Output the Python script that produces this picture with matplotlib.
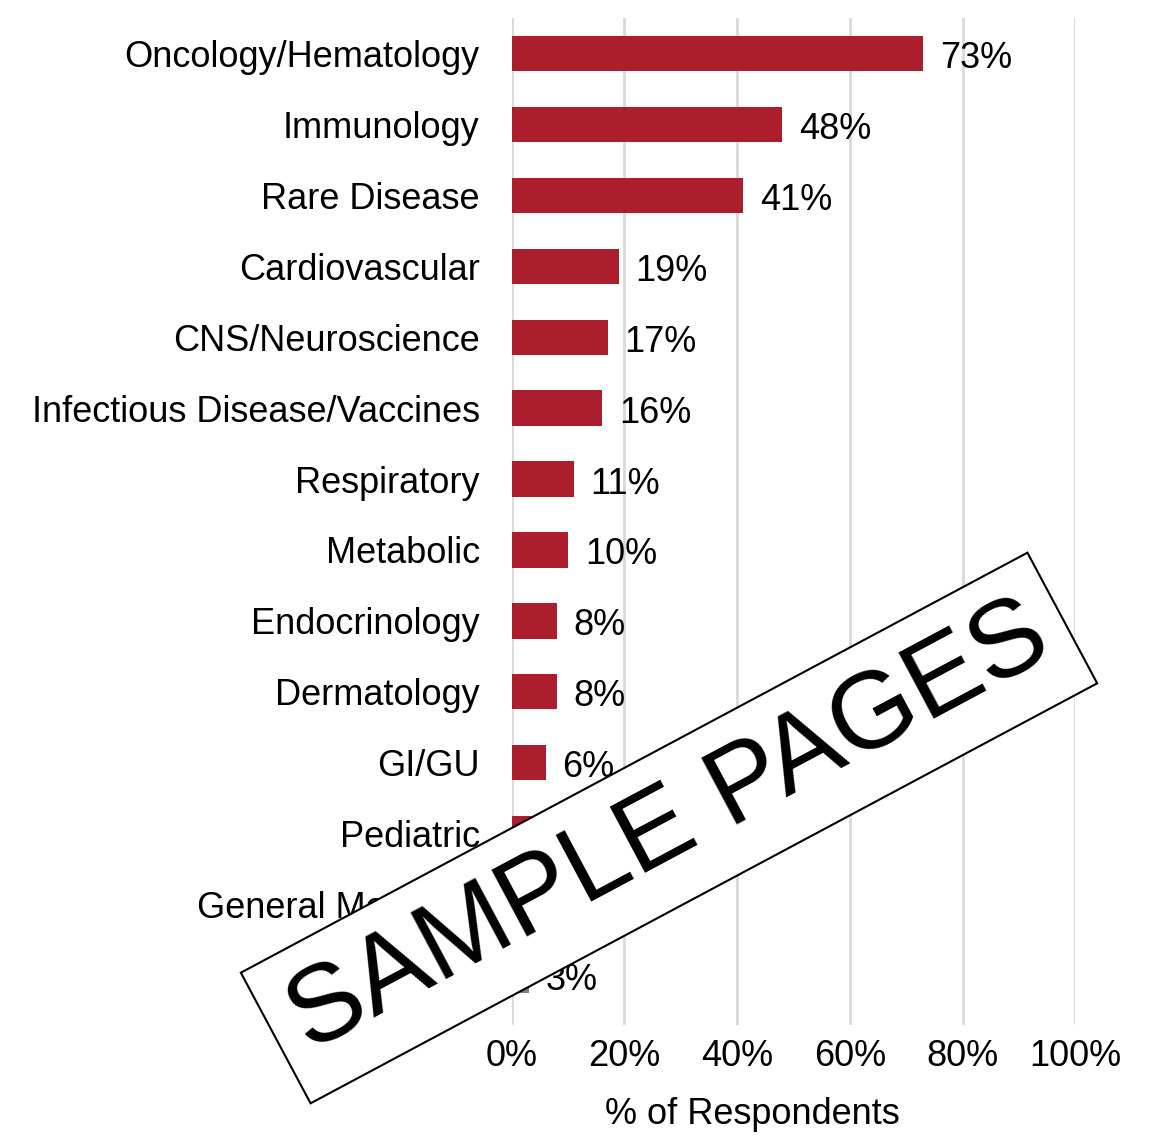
import matplotlib
matplotlib.use("Agg")
import matplotlib.pyplot as plt

plt.rcParams['font.family'] = ['Liberation Sans', 'DejaVu Sans']

categories = ["Oncology/Hematology", "Immunology", "Rare Disease", "Cardiovascular",
              "CNS/Neuroscience", "Infectious Disease/Vaccines", "Respiratory", "Metabolic",
              "Endocrinology", "Dermatology", "GI/GU", "Pediatric", "General Medicine", "Other"]
values = [73, 48, 41, 19, 17, 16, 11, 10, 8, 8, 6, 5, 4, 3]
bar_colors = ["#AC1E2D"] * 13 + ["#7F7F7F"]
xticks = [0, 20, 40, 60, 80, 100]
xticklabels = ["0%", "20%", "40%", "60%", "80%", "100%"]

FS = 26

fig = plt.figure(figsize=(11.5, 11.36), dpi=100)
ax = fig.add_axes([0.445, 0.0977, 0.49, 0.8863])

y = list(range(len(categories)))
ax.barh(y, values, height=0.5, color=bar_colors, zorder=3)
for yi, v in zip(y, values):
    ax.text(v + 3.0, yi + 0.07, f"{v}%", va="center", ha="left", fontsize=FS, color="#000000", zorder=4)

ax.set_ylim(len(categories) - 0.5 + 0.2, -0.5)
ax.set_xlim(0, 100)
ax.set_yticks(y)
ax.set_yticklabels(categories, fontsize=FS)
ax.set_xticks(xticks)
ax.set_xticklabels(xticklabels, fontsize=FS)
ax.tick_params(axis="y", length=0, pad=23)
ax.tick_params(axis="x", length=0, pad=10)
for s in ax.spines.values():
    s.set_visible(False)
ax.xaxis.grid(True, color="#D9D9D9", linewidth=2, zorder=0)
ax.set_axisbelow(True)

fig.text(752 / 1150, 1 - 1115 / 1136, "% of Respondents", ha="center", va="center", fontsize=FS)

# watermark stamp
fig.text(669 / 1150, 1 - 828 / 1136, "SAMPLE PAGES", ha="center", va="center",
         rotation=28.1, rotation_mode="anchor", fontsize=79, color="black", zorder=10,
         bbox=dict(boxstyle="square,pad=0.21", fc="white", ec="black", lw=1.5))

fig.savefig("out.png", dpi=100)
